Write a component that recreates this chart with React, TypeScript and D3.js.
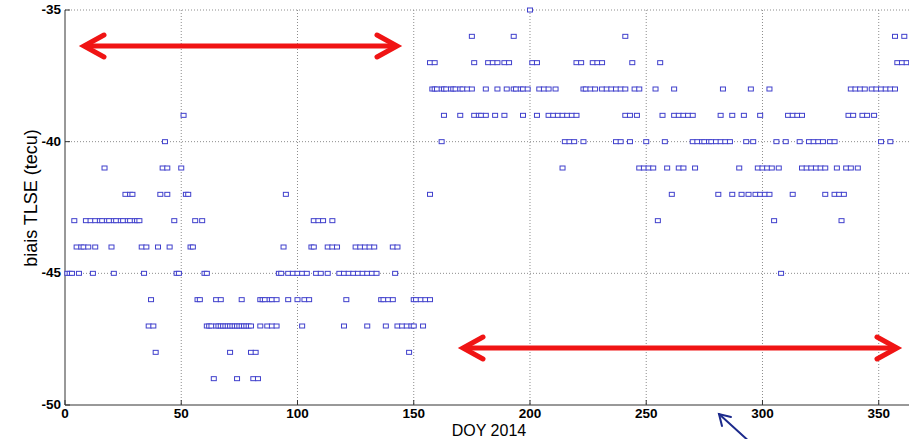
import React from "react";
import * as d3 from "d3";

// Days of year (DOY 2014) at which each bias level (TECU) was observed
const daysAtM35 = [200];
const daysAtM36 = [175, 193, 241, 357, 361];
const daysAtM37 = [157, 159, 176, 182, 184, 186, 189, 191, 201, 203, 220, 222, 227, 229, 231, 244, 256, 358, 360, 362, 364];
const daysAtM38 = [158, 159, 160, 162, 163, 164, 166, 167, 168, 170, 171, 173, 175, 181, 186, 190, 193, 194, 196, 197, 199, 204, 206, 208, 211, 223, 224, 226, 228, 231, 233, 235, 237, 239, 241, 245, 247, 254, 262, 283, 295, 303, 338, 340, 342, 344, 347, 349, 351, 353, 355, 357];
const daysAtM39 = [51, 163, 170, 176, 178, 179, 181, 185, 189, 197, 203, 208, 210, 212, 214, 216, 218, 220, 241, 243, 246, 257, 262, 264, 266, 268, 270, 282, 287, 292, 299, 311, 313, 315, 317, 337, 339, 343, 345, 348];
const daysAtM40 = [43, 162, 215, 217, 219, 223, 237, 239, 243, 250, 258, 270, 272, 274, 275, 277, 278, 280, 282, 284, 286, 293, 296, 306, 310, 316, 320, 322, 324, 326, 329, 331, 351, 355];
const daysAtM41 = [17, 42, 44, 50, 214, 247, 249, 251, 253, 259, 264, 266, 271, 290, 298, 300, 302, 304, 307, 317, 319, 321, 323, 325, 327, 332, 336, 338, 341];
const daysAtM42 = [26, 28, 29, 41, 44, 52, 53, 95, 157, 261, 281, 287, 291, 294, 297, 299, 301, 303, 313, 327, 331, 333, 335];
const daysAtM43 = [4, 9, 11, 13, 15, 16, 18, 19, 21, 22, 24, 25, 27, 28, 30, 31, 32, 47, 56, 59, 107, 109, 111, 115, 255, 305, 334];
const daysAtM44 = [5, 7, 8, 10, 13, 20, 33, 35, 40, 45, 54, 55, 94, 106, 107, 113, 115, 117, 125, 127, 129, 131, 133, 141, 143];
const daysAtM45 = [1, 2, 3, 6, 12, 21, 34, 48, 49, 60, 61, 92, 93, 96, 98, 100, 102, 104, 108, 110, 113, 118, 120, 122, 124, 126, 128, 130, 132, 134, 142, 308];
const daysAtM46 = [37, 57, 58, 65, 67, 76, 84, 85, 86, 88, 89, 91, 96, 100, 103, 105, 121, 136, 137, 139, 141, 150, 151, 153, 155, 157];
const daysAtM47 = [36, 38, 61, 62, 63, 65, 66, 67, 68, 69, 70, 71, 72, 73, 74, 75, 76, 77, 78, 79, 80, 84, 87, 89, 91, 102, 120, 130, 138, 143, 145, 147, 149, 150, 154];
const daysAtM48 = [39, 71, 80, 82, 148];
const daysAtM49 = [64, 74, 81, 83];

const biasLevels = [-35, -36, -37, -38, -39, -40, -41, -42, -43, -44, -45, -46, -47, -48, -49];
const daysPerLevel = [daysAtM35, daysAtM36, daysAtM37, daysAtM38, daysAtM39, daysAtM40, daysAtM41, daysAtM42, daysAtM43, daysAtM44, daysAtM45, daysAtM46, daysAtM47, daysAtM48, daysAtM49];

const xTicks = [0, 50, 100, 150, 200, 250, 300, 350];
const yTicks = [-50, -45, -40, -35];
const xTitle = "DOY 2014";
const yTitle = "biais TLSE (tecu)";

const W = 909;
const H = 439;
const M = { left: 65, top: 10, bottom: 405 };

export default function App() {
  const x = d3.scaleLinear().domain([0, 365]).range([M.left, 913.6]);
  const y = d3.scaleLinear().domain([-50, -35]).range([M.bottom, M.top]);

  const points: { d: number; v: number }[] = [];
  biasLevels.forEach((v, i) => daysPerLevel[i].forEach((d) => points.push({ d, v })));

  const font = "'Liberation Sans', Arial, Helvetica, sans-serif";
  const red = "#f01414";
  const blue = "#4040cc";

  const chevron = (tx: number, ty: number, dir: number) =>
    `M${tx + dir * 20},${ty - 11} L${tx},${ty} L${tx + dir * 20},${ty + 11}`;

  return (
    <svg
      width={W}
      height={H}
      style={{ position: "absolute", left: 0, top: 0, background: "#fff" }}
      fontFamily={font}
    >
      <rect x={0} y={0} width={W} height={H} fill="#fff" />
      {/* grid */}
      {xTicks.filter((t) => t > 0).map((t) => (
        <line key={"gx" + t} x1={x(t)} x2={x(t)} y1={M.top} y2={M.bottom} stroke="#8c8c8c" strokeWidth={1} strokeDasharray="1,2" />
      ))}
      {yTicks.filter((t) => t > -50).map((t) => (
        <line key={"gy" + t} x1={M.left} x2={W} y1={y(t)} y2={y(t)} stroke="#8c8c8c" strokeWidth={1} strokeDasharray="1,2" />
      ))}
      {/* axes */}
      <line x1={M.left} x2={M.left} y1={M.top} y2={M.bottom} stroke="#333" strokeWidth={1} />
      <line x1={M.left} x2={W} y1={M.bottom} y2={M.bottom} stroke="#333" strokeWidth={1} />
      {xTicks.map((t) => (
        <g key={"xt" + t}>
          <line x1={x(t)} x2={x(t)} y1={M.bottom} y2={M.bottom - 5} stroke="#333" />
          <text x={x(t)} y={418} textAnchor="middle" fontSize={13.5} fontWeight="bold" fill="#000">{t}</text>
        </g>
      ))}
      {yTicks.map((t) => (
        <g key={"yt" + t}>
          <line x1={M.left} x2={M.left + 5} y1={y(t)} y2={y(t)} stroke="#333" />
          <text x={61} y={y(t) + 4} textAnchor="end" fontSize={13.5} fontWeight="bold" fill="#000">{t}</text>
        </g>
      ))}
      <text x={489} y={436} textAnchor="middle" fontSize={16} fill="#000">{xTitle}</text>
      <text transform={`translate(37,198) rotate(-90)`} textAnchor="middle" fontSize={18} fill="#000">{yTitle}</text>
      {/* markers */}
      {points.map((p, i) => (
        <rect key={i} x={x(p.d) - 2.5} y={y(p.v) - 2} width={5} height={4} fill="#fff" stroke={blue} strokeWidth={1} />
      ))}
      {/* red double arrows */}
      <g stroke={red} strokeWidth={5} fill="none" strokeLinecap="round" strokeLinejoin="miter">
        <line x1={84} x2={397} y1={46} y2={46} strokeLinecap="butt" />
        <path d={chevron(84, 46, 1)} />
        <path d={chevron(397, 46, -1)} />
        <line x1={463} x2={897} y1={348} y2={348} strokeLinecap="butt" />
        <path d={chevron(463, 348, 1)} />
        <path d={chevron(897, 348, -1)} />
      </g>
      {/* blue pointer arrow */}
      <g stroke="#1c2a8c" strokeWidth={2} fill="none" strokeLinecap="round">
        <line x1={719} y1={414} x2={752} y2={444} />
        <path d="M731,417 L719,414 L722,426" />
      </g>
    </svg>
  );
}
